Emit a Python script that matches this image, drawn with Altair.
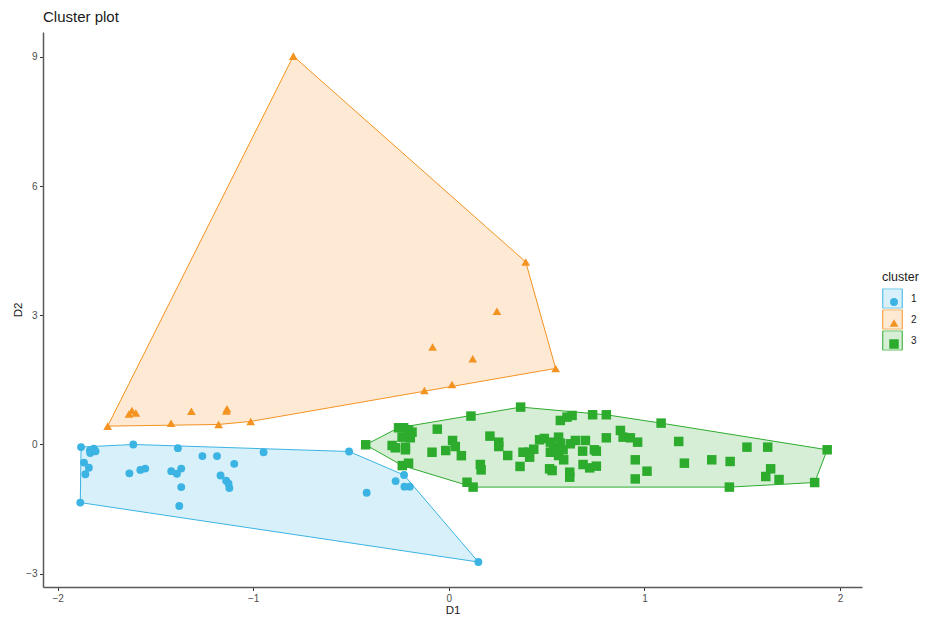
import altair as alt
import pandas as pd

# ---------------- data ----------------
c1_x = [-1.880, -1.835, -1.815, -1.806, -1.833, -1.613, -1.385, -1.260, -1.185, -1.097,
        -0.947, -1.865, -1.840, -1.858, -1.633, -1.577, -1.552, -1.419, -1.390, -1.368,
        -1.368, -1.167, -1.138, -1.126, -1.122, -1.884, -1.378, -0.510, -0.229, -0.272,
        -0.227, -0.200, -0.420, 0.151]
c1_y = [-0.06, -0.14, -0.10, -0.156, -0.20, 0.00, -0.085, -0.27, -0.27, -0.45,
        -0.18, -0.42, -0.54, -0.69, -0.67, -0.59, -0.56, -0.62, -0.68, -0.56,
        -0.99, -0.72, -0.84, -0.91, -1.01, -1.35, -1.43, -0.163, -0.71, -0.85,
        -0.98, -0.98, -1.12, -2.73]

c2_x = [-0.795, 0.393, 0.546, 0.246, -0.083, 0.122, 0.016, -0.125, -1.744, -1.620,
        -1.600, -1.635, -1.316, -1.134, -1.137, -1.420, -1.177, -1.013]
c2_y = [9.02, 4.24, 1.767, 3.093, 2.263, 1.993, 1.395, 1.256, 0.426, 0.79,
        0.73, 0.71, 0.774, 0.83, 0.78, 0.495, 0.465, 0.535]

c3_x = [-0.425, -0.257, -0.231, -0.206, -0.188, -0.239, -0.197, -0.290, -0.274, -0.222,
        -0.222, -0.238, -0.206, -0.059, 0.019, 0.033, -0.086, -0.016, 0.064, 0.113,
        0.210, 0.255, 0.255, 0.161, 0.165, 0.093, 0.124, 0.301, 0.367, 0.364,
        0.379, 0.408, 0.413, 0.434, 0.464, 0.488, 0.519, 0.561, 0.570, 0.536,
        0.553, 0.519, 0.584, 0.621, 0.647, 0.561, 0.587, 0.515, 0.528, 0.618,
        0.618, 0.570, 0.604, 0.630, 0.735, 0.805, 0.698, 0.684, 0.744, 0.754,
        0.686, 0.720, 0.754, 0.805, 0.877, 0.891, 0.928, 0.965, 0.953, 0.953,
        1.085, 1.175, 1.013, 1.204, 1.344, 1.438, 1.434, 1.524, 1.630, 1.645,
        1.620, 1.688, 1.870, 1.934]
c3_y = [-0.007, 0.388, 0.388, 0.342, 0.286, 0.170, 0.156, -0.023, -0.077, -0.063,
        -0.123, -0.490, -0.435, 0.356, 0.093, -0.047, -0.180, -0.140, -0.260, 0.660,
        0.194, 0.053, -0.047, -0.465, -0.590, -0.877, -0.990, -0.256, 0.868, -0.510,
        -0.180, -0.180, -0.295, -0.110, 0.109, 0.140, 0.054, 0.170, 0.030, -0.063,
        -0.123, -0.180, -0.123, 0.016, 0.093, -0.256, -0.356, -0.565, -0.605, -0.644,
        -0.760, 0.558, 0.635, 0.674, 0.690, 0.690, 0.093, -0.155, -0.123, -0.155,
        -0.465, -0.543, -0.504, 0.155, 0.326, 0.170, 0.155, 0.054, -0.356, -0.800,
        0.496, 0.070, -0.620, -0.434, -0.356, -0.395, -0.990, -0.062, -0.062, -0.565,
        -0.744, -0.814, -0.884, -0.123]

clusters = ["1", "2", "3"]
strong = ["#3BB4E3", "#F39321", "#2DAB2D"]
light = ["#D8F0F9", "#FDE9D4", "#D5EED5"]
shapes = ["circle", "triangle-up", "square"]
sizes = [62, 90, 58]

x_ticks = [-2, -1, 0, 1, 2]
y_ticks = [-3, 0, 3, 6, 9]

# ---------------- tables ----------------
series = {"1": (c1_x, c1_y), "2": (c2_x, c2_y), "3": (c3_x, c3_y)}
pts = pd.DataFrame(
    [{"cluster": k, "x": x, "y": y} for k, (xs, ys) in series.items() for x, y in zip(xs, ys)]
)


def convex_hull(points):
    p = sorted(set(points))

    def cross(o, a, b):
        return (a[0] - o[0]) * (b[1] - o[1]) - (a[1] - o[1]) * (b[0] - o[0])

    lower, upper = [], []
    for q in p:
        while len(lower) >= 2 and cross(lower[-2], lower[-1], q) <= 0:
            lower.pop()
        lower.append(q)
    for q in reversed(p):
        while len(upper) >= 2 and cross(upper[-2], upper[-1], q) <= 0:
            upper.pop()
        upper.append(q)
    return lower[:-1] + upper[:-1]


hull_rows = []
for k, (xs, ys) in series.items():
    h = convex_hull(list(zip(xs, ys)))
    h = h + [h[0]]
    for i, (x, y) in enumerate(h):
        hull_rows.append({"grp": k, "idx": i, "x": x, "y": y})
hull = pd.DataFrame(hull_rows)

FONT = "Liberation Sans"
W, H = 819, 555
x_scale = alt.Scale(domain=[-2.0746, 2.112], nice=False, zero=False)
y_scale = alt.Scale(domain=[-3.31, 9.58], nice=False, zero=False)

box_legend = alt.Legend(
    title="cluster", orient="none", legendX=839, legendY=239,
    symbolType="square", symbolSize=380, symbolStrokeWidth=1,
    clipHeight=20, rowPadding=1, labelOffset=8,
    labelFontSize=10, labelColor="#1a1a1a", labelFont=FONT,
    titleFontSize=12.5, titleFontWeight="normal", titleFont=FONT,
    titleColor="#1a1a1a", titlePadding=5,
)
shape_legend = alt.Legend(
    title=None, orient="none", legendX=846, legendY=260,
    symbolSize=40, clipHeight=20, rowPadding=1, labelExpr="''",
    symbolStrokeWidth=0,
)

poly = alt.Chart(hull).mark_line(strokeWidth=1, interpolate="linear").encode(
    x=alt.X("x:Q", scale=x_scale,
            axis=alt.Axis(values=x_ticks, title="D1", format="d",
                          titleX=W / 2, titleY=23.5, titleBaseline="middle",
                          titleAlign="center")),
    y=alt.Y("y:Q", scale=y_scale,
            axis=alt.Axis(values=y_ticks, title="D2", format="d",
                          titleX=-24.5, titleY=H / 2, titleBaseline="middle",
                          titleAlign="center", titleAngle=270)),
    order=alt.Order("idx:Q"),
    fill=alt.Fill("grp:N", scale=alt.Scale(domain=clusters, range=light), legend=box_legend),
    stroke=alt.Stroke("grp:N", scale=alt.Scale(domain=clusters, range=strong), legend=box_legend),
)

points = alt.Chart(pts).mark_point(filled=True, opacity=1).encode(
    x="x:Q",
    y="y:Q",
    color=alt.Color("cluster:N", scale=alt.Scale(range=strong), legend=shape_legend),
    shape=alt.Shape("cluster:N", scale=alt.Scale(range=shapes), legend=shape_legend),
    size=alt.Size("cluster:O", scale=alt.Scale(range=sizes), legend=None),
)

chart = (
    alt.layer(poly, points)
    .properties(
        width=W, height=H,
        title=alt.TitleParams("Cluster plot", anchor="start", frame="group", fontSize=15,
                              font=FONT, fontWeight="normal", color="#1a1a1a",
                              baseline="alphabetic", offset=10, dy=14.5),
        padding={"left": 35, "top": 24, "right": 57, "bottom": 30},
        autosize=alt.AutoSizeParams(type="none"),
    )
    .configure_view(stroke=None)
    .configure_axis(
        grid=False, domainColor="#5a5a5a", domainWidth=1.5, tickColor="#333333",
        tickSize=3.5, labelColor="#4d4d4d", labelFontSize=10, labelFont=FONT,
        titleFont=FONT, titleFontSize=11.5, titleFontWeight="normal", titleColor="#1a1a1a",
        labelPadding=2.5,
    )
)

chart.save("out.html", embed_options={"renderer": "svg", "actions": False})
